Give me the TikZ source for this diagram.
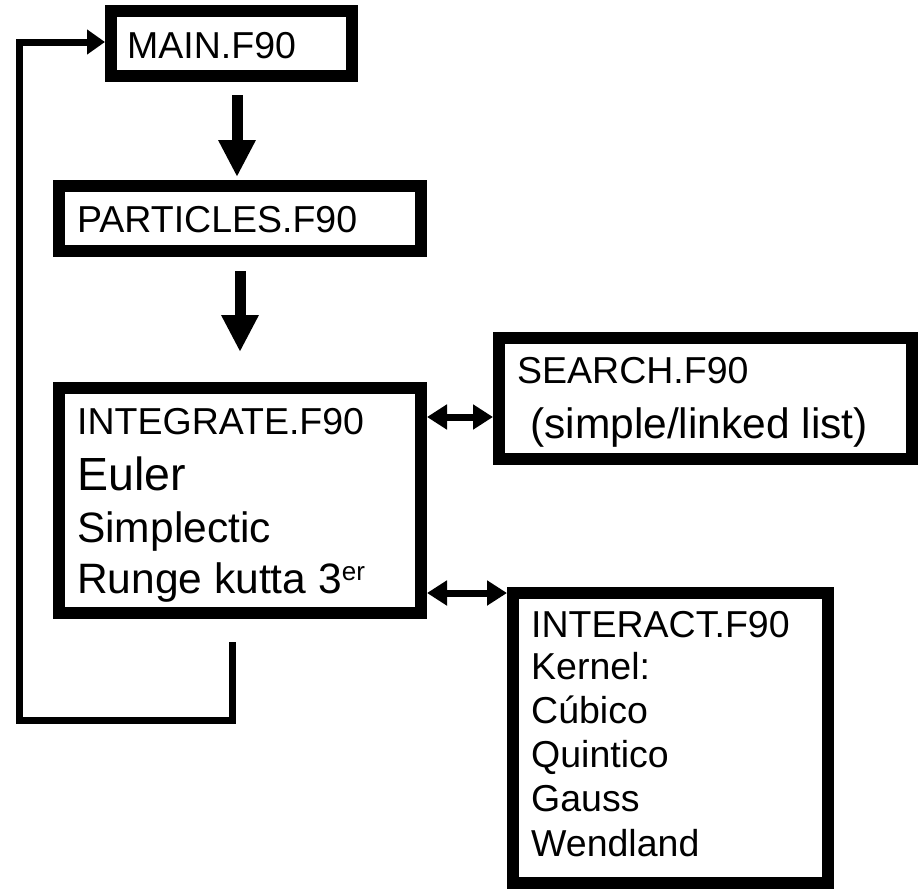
\documentclass[tikz,border=0pt]{standalone}
\usepackage{fontspec}
\setmainfont{Liberation Sans}
\usetikzlibrary{arrows.meta}
\begin{document}
\begin{tikzpicture}[x=1pt,y=-1pt,
  box/.style={draw, line width=12pt, rectangle, inner sep=0pt},
  txt/.style={anchor=base west, inner sep=0pt, font=\fontsize{37.5}{44}\selectfont},
  txtL/.style={txt, font=\fontsize{42.5}{50}\selectfont},
  txtXL/.style={txt, font=\fontsize{46.5}{52}\selectfont},
  bigarrow/.style={line width=11pt, -{Triangle[length=37pt,width=35pt]}},
  dblarrow/.style={line width=7pt, {Triangle[length=20pt,width=24pt]}-{Triangle[length=20pt,width=24pt]}},
  looparrow/.style={line width=7pt, line join=miter, -{Triangle[length=18pt,width=24pt]}}
]
\useasboundingbox (0,0) rectangle (922,894);

% boxes
\node[box, minimum width=241pt, minimum height=65pt] (main) at (231.5,43.5) {};
\node[box, minimum width=362pt, minimum height=65pt] (particles) at (240,218.5) {};
\node[box, minimum width=362pt, minimum height=225pt] (integ) at (240,500.5) {};
\node[box, minimum width=413pt, minimum height=121pt] (search) at (705.5,398.5) {};
\node[box, minimum width=315pt, minimum height=290pt] (interact) at (670.5,738) {};

% texts
\node[txt] (mainT) at (127,58) {MAIN.F90};
\node[txt] (partT) at (77,232) {PARTICLES.F90};
\node[txt] (intT1) at (77,434) {INTEGRATE.F90};
\node[txtXL] (intT2) at (77,490) {Euler};
\node[txtL] (intT3) at (77,542) {Simplectic};
\node[txtL] (intT4) at (77,593) {Runge kutta 3\raisebox{13pt}{\fontsize{26}{26}\selectfont er}};
\node[txt] (srchT1) at (517,383) {SEARCH.F90};
\node[txtL] (srchT2) at (530,438) {(simple/linked list)};
\node[txt] (iaT1) at (531,637) {INTERACT.F90};
\node[txt] (iaT2) at (531,679) {Kernel:};
\node[txt] (iaT3) at (531,723) {Cúbico};
\node[txt] (iaT4) at (531,767) {Quintico};
\node[txt] (iaT5) at (531,811) {Gauss};
\node[txt] (iaT6) at (531,856) {Wendland};

% down arrows
\coordinate (ax1) at (237,0);
\draw[bigarrow, shorten <=13pt, shorten >=3pt] (main.south -| ax1) -- (particles.north -| ax1);
\coordinate (ax2) at (240,0);
\draw[bigarrow, shorten <=14pt, shorten >=30pt] (particles.south -| ax2) -- (integ.north -| ax2);

% double arrows
\coordinate (ay1) at (0,417);
\draw[dblarrow] (integ.east |- ay1) -- (search.west |- ay1);
\coordinate (ay2) at (0,593);
\draw[dblarrow] (integ.east |- ay2) -- (interact.west |- ay2);

% feedback loop
\coordinate (ls) at (232,642);
\coordinate (lb) at (232,720);
\coordinate (ll) at (19,720);
\coordinate (lt) at (19,42);
\draw[looparrow] (ls) -- (lb) -- (ll) -- (lt) -- (main.west |- lt);
\end{tikzpicture}
\end{document}
